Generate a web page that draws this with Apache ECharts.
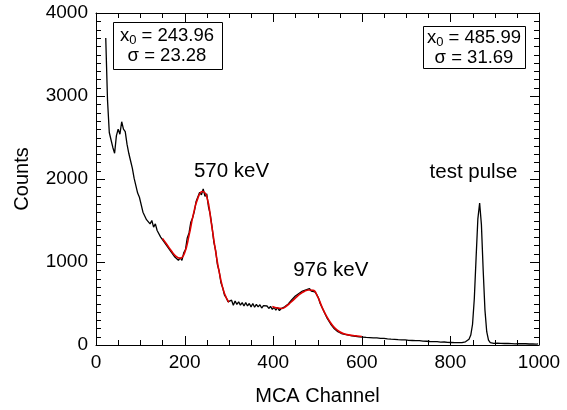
<!DOCTYPE html>
<html>
<head>
<meta charset="utf-8">
<title>MCA spectrum</title>
<script src="https://cdn.jsdelivr.net/npm/echarts@6/dist/echarts.min.js"></script>
<style>
  html, body { margin: 0; padding: 0; background: #fff; }
  #chart { width: 567px; height: 410px; }
</style>
</head>
<body>
<div id="chart"></div>
<script>
// ==============================================================
// MCA spectrum with two gaussian fits and a test pulse
// ==============================================================

// channel bins: first channel and bin step of the counts list
var firstChannel = 22;
var channelStep = 4;

var counts = [
    3700, 2950, 2560, 2470, 2380, 2310, 2520, 2600, 2540, 2690,
    2600, 2570, 2420, 2310, 2220, 2130, 2010, 1920, 1830, 1780,
    1760, 1600, 1610, 1510, 1530, 1460, 1500, 1420, 1460, 1380,
    1380, 1300, 1320, 1240, 1260, 1180, 1190, 1120, 1130, 1060,
    1070, 1020, 1050, 1020, 1110, 1150, 1290, 1350, 1480, 1530,
    1610, 1730, 1740, 1840, 1810, 1880, 1790, 1820, 1660, 1570,
    1420, 1240, 1140, 970, 890, 750, 690, 600, 570, 520,
    510, 540, 480, 530, 490, 520, 480, 510, 470, 510,
    470, 500, 460, 500, 455, 490, 460, 485, 445, 475,
    455, 470, 440, 465, 430, 455, 420, 450, 415, 440,
    430, 460, 455, 495, 505, 545, 555, 590, 590, 620,
    610, 650, 635, 665, 645, 680, 650, 670, 640, 610,
    570, 500, 480, 410, 390, 320, 305, 250, 240, 195,
    185, 160, 158, 138, 142, 128, 130, 118, 120, 110,
    112, 104, 106, 98, 103, 95, 98, 91, 94, 88,
    93, 85, 88, 86, 84, 80, 82, 80, 78, 74,
    76, 70, 75, 68, 70, 64, 69, 62, 64, 61,
    62, 56, 61, 54, 57, 52, 54, 52, 51, 46,
    51, 45, 48, 42, 47, 40, 42, 40, 39, 35,
    37, 36, 35, 31, 36, 30, 31, 28, 30, 28,
    29, 28, 33, 38, 48, 70, 120, 250, 560, 1050,
    1520, 1710, 1450, 900, 420, 160, 60, 30, 22, 20,
    18, 21, 16, 19, 15, 18, 14, 18, 15, 16,
    16, 13, 16, 15, 13, 16, 12, 15, 14, 12,
    14, 12, 15, 11, 13
];

// fit curve around the 570 keV peak
var fit1Channels = [150, 160, 170, 180, 190, 200, 210, 220, 230, 240, 250, 260, 270, 280, 290, 300];
var fit1Counts   = [1285, 1210, 1135, 1070, 1045, 1110, 1320, 1580, 1770, 1850, 1790, 1480, 1130, 830, 620, 515];

// fit curve around the 976 keV peak
var fit2Channels = [398, 410, 420, 430, 440, 450, 460, 470, 480, 490, 500, 510, 520, 530, 540, 550, 560, 570, 580, 590, 600];
var fit2Counts   = [465, 445, 440, 470, 515, 565, 612, 645, 662, 660, 585, 460, 350, 265, 200, 160, 135, 122, 114, 108, 103];

// fit results shown in the boxes
var fitCentroids = ['243.96', '485.99'];
var fitSigmas = ['23.28', '31.69'];

// peak labels
var peakNames = ['570 keV', '976 keV', 'test pulse'];

var xTicks = { min: 0, max: 1000, interval: 200, minor: 50 };
var yTicks = { min: 0, max: 4000, interval: 1000, minor: 100 };

var FONT = '"Liberation Sans", Arial, Helvetica, sans-serif';
var MAJOR_LEN = 9, MINOR_LEN = 5;   // px

function pairs(xs, ys) {
    var out = [];
    for (var i = 0; i < ys.length; i++) out.push([xs[i], ys[i]]);
    return out;
}

var spectrum = [];
for (var i = 0; i < counts.length; i++) {
    spectrum.push([firstChannel + i * channelStep, counts[i]]);
}

function frameAxis(t, pos, withLabel) {
    return {
        type: 'value', position: pos,
        min: t.min, max: t.max, interval: t.interval,
        axisLine: { show: true, onZero: false, lineStyle: { color: '#000', width: 1 } },
        axisTick: { show: false },
        splitLine: { show: false },
        axisLabel: {
            show: withLabel, color: '#000', fontSize: 19, fontFamily: FONT, margin: 8,
            formatter: function (v) { return String(v); }
        }
    };
}

var chart = echarts.init(document.getElementById('chart'));

var xMain = frameAxis(xTicks, 'bottom', true);
xMain.name = 'MCA Channel';
xMain.nameLocation = 'middle';
xMain.nameGap = 41;
xMain.nameTextStyle = { color: '#000', fontSize: 20, fontFamily: FONT };

var yMain = frameAxis(yTicks, 'left', true);
yMain.name = 'Counts';
yMain.nameLocation = 'middle';
yMain.nameGap = 64;
yMain.nameTextStyle = { color: '#000', fontSize: 20, fontFamily: FONT };

var boxRich = {
    v: { fontSize: 18.5, fontFamily: FONT, color: '#000', lineHeight: 20 },
    s: { fontSize: 13, fontFamily: FONT, color: '#000', lineHeight: 20, padding: [9, 0, 0, 0] }
};

function fitText(k) {
    return '{v|x}{s|0}{v| = ' + fitCentroids[k] + '}\n{v|σ = ' + fitSigmas[k] + '}';
}

var boxes = [
    { type: 'rect', shape: { x: 113.5, y: 22.5, width: 109, height: 47 },
      style: { fill: '#fff', stroke: '#000', lineWidth: 1 }, z: 10 },
    { type: 'text', x: 167, y: 46, z: 11,
      style: { text: fitText(0), rich: boxRich, align: 'center', verticalAlign: 'middle' } },
    { type: 'rect', shape: { x: 423.5, y: 26.5, width: 102, height: 42 },
      style: { fill: '#fff', stroke: '#000', lineWidth: 1 }, z: 10 },
    { type: 'text', x: 474, y: 47.5, z: 11,
      style: { text: fitText(1), rich: boxRich, align: 'center', verticalAlign: 'middle' } }
];

option = {
    animation: false,
    backgroundColor: '#fff',
    grid: { left: 96, right: 28, top: 13, bottom: 65, outerBoundsMode: 'none' },
    xAxis: [xMain, frameAxis(xTicks, 'top', false)],
    yAxis: [yMain, frameAxis(yTicks, 'right', false)],
    graphic: boxes,
    series: [
        {
            name: 'spectrum', type: 'line', data: spectrum,
            showSymbol: false, symbol: 'none',
            lineStyle: { color: '#000', width: 1.3 }, z: 2
        },
        {
            name: 'fit 1', type: 'line', data: pairs(fit1Channels, fit1Counts),
            showSymbol: false, symbol: 'none', smooth: true,
            lineStyle: { color: '#e00000', width: 1.6 }, z: 3
        },
        {
            name: 'fit 2', type: 'line', data: pairs(fit2Channels, fit2Counts),
            showSymbol: false, symbol: 'none', smooth: true,
            lineStyle: { color: '#e00000', width: 1.6 }, z: 3
        },
        {
            name: 'labels', type: 'scatter', symbolSize: 0,
            itemStyle: { opacity: 1, color: 'transparent' },
            data: [
                { value: [306, 2090], name: peakNames[0] },
                { value: [530, 895], name: peakNames[1] },
                { value: [852, 2085], name: peakNames[2] }
            ],
            label: {
                show: true, position: 'inside', formatter: '{b}',
                color: '#000', fontSize: 20.5, fontFamily: FONT
            },
            silent: true, z: 4
        }
    ]
};

chart.setOption(option);

// inward frame ticks as thin filled rects, placed through the axis scales
function tickRect(x, y, w, h) {
    return {
        type: 'rect', silent: true, z: 20,
        shape: { x: x, y: y, width: w, height: h },
        style: { fill: '#000', stroke: null }
    };
}

var ticks = [];
var v, len, lo, hi, c;
for (v = xTicks.min; v <= xTicks.max; v += xTicks.minor) {
    len = v % xTicks.interval === 0 ? MAJOR_LEN : MINOR_LEN;
    lo = chart.convertToPixel({ xAxisIndex: 0, yAxisIndex: 0 }, [v, yTicks.min]);
    hi = chart.convertToPixel({ xAxisIndex: 0, yAxisIndex: 0 }, [v, yTicks.max]);
    c = Math.round(lo[0]);
    ticks.push(tickRect(c, Math.round(lo[1]) - len, 1, len));
    ticks.push(tickRect(c, Math.round(hi[1]), 1, len));
}
for (v = yTicks.min; v <= yTicks.max; v += yTicks.minor) {
    len = v % yTicks.interval === 0 ? MAJOR_LEN : MINOR_LEN;
    lo = chart.convertToPixel({ xAxisIndex: 0, yAxisIndex: 0 }, [xTicks.min, v]);
    hi = chart.convertToPixel({ xAxisIndex: 0, yAxisIndex: 0 }, [xTicks.max, v]);
    c = Math.round(lo[1]);
    ticks.push(tickRect(Math.round(lo[0]), c, len, 1));
    ticks.push(tickRect(Math.round(hi[0]) - len, c, len, 1));
}

chart.setOption({ graphic: boxes.concat(ticks) });
</script>
</body>
</html>
